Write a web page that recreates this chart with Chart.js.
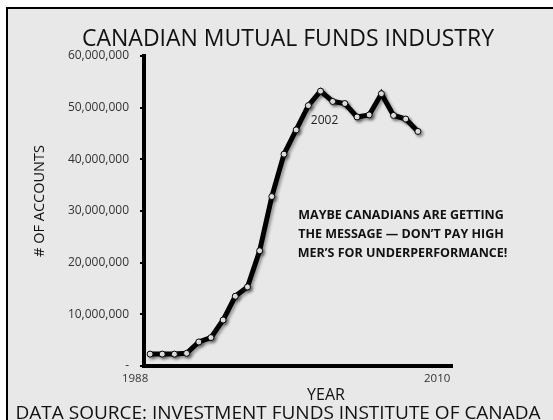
<!DOCTYPE html>
<html>
<head>
<meta charset="utf-8">
<script src="https://cdn.jsdelivr.net/npm/chart.js@4"></script>
<style>
  html, body { margin: 0; padding: 0; background: #fff; }
  #wrap { width: 553px; height: 420px; }
</style>
</head>
<body>
<div id="wrap"><canvas id="fundsChart" width="553" height="420"></canvas></div>
<script>
// number of mutual fund accounts in Canada, by year
var years = [1988, 1989, 1990, 1991, 1992, 1993, 1994, 1995, 1996, 1997, 1998, 1999,
             2000, 2001, 2002, 2003, 2004, 2005, 2006, 2007, 2008, 2009, 2010];
var accounts = [2300000, 2300000, 2300000, 2450000, 4650000, 5500000, 8900000, 13500000,
                15300000, 22300000, 32800000, 41000000, 45700000, 50400000, 53200000,
                51200000, 50800000, 48200000, 48600000, 52700000, 48500000, 47800000, 45400000];
var xTickLabels = ['1988', '2010'];
var yTicks = [0, 10000000, 20000000, 30000000, 40000000, 50000000, 60000000];

var chartTitle = 'CANADIAN MUTUAL FUNDS INDUSTRY';
var yTitle = '# OF ACCOUNTS';
var xTitle = 'YEAR';
var sourceText = 'DATA SOURCE: INVESTMENT FUNDS INSTITUTE OF CANADA';
var peakLabel = '2002';
var noteLines = ['MAYBE CANADIANS ARE GETTING', 'THE MESSAGE \u2014 DON\u2019T PAY HIGH', ' MER\u2019S FOR UNDERPERFORMANCE!'];

var FONT = '"Open Sans", "Noto Sans", sans-serif';

// grey panel with a black frame on the top and left
var panel = {
    id: 'panel',
    beforeDraw: function (chart) {
        var c = chart.ctx;
        c.save();
        c.fillStyle = '#ffffff';
        c.fillRect(0, 0, chart.width, chart.height);
        c.fillStyle = '#e8e8e8';
        c.fillRect(7, 8, chart.width - 7, chart.height - 8);
        c.strokeStyle = '#000';
        c.lineWidth = 2;
        c.beginPath();
        c.moveTo(7, chart.height);
        c.lineTo(7, 8);
        c.lineTo(chart.width, 8);
        c.stroke();
        c.restore();
    }
};

// soft drop shadow under the line, like the original
var shadow = {
    id: 'shadow',
    beforeDatasetsDraw: function (chart) {
        var c = chart.ctx;
        c.save();
        c.shadowColor = 'rgba(0,0,0,0.35)';
        c.shadowBlur = 3;
        c.shadowOffsetX = 2;
        c.shadowOffsetY = 2;
    },
    afterDatasetsDraw: function (chart) {
        chart.ctx.restore();
    }
};

// free texts: title, axis titles, note, source
var texts = {
    id: 'texts',
    afterDraw: function (chart) {
        var c = chart.ctx;
        var x = chart.scales.x, y = chart.scales.y;
        c.save();
        c.fillStyle = '#111';
        c.textAlign = 'center';
        c.textBaseline = 'alphabetic';

        c.font = '23px ' + FONT;
        c.fillText(chartTitle, 288, 46);

        c.font = '16px ' + FONT;
        c.fillText(xTitle, 326, 400);

        c.font = '19px ' + FONT;
        c.fillText(sourceText, 278, 419);

        c.save();
        c.translate(40, 201);
        c.rotate(-Math.PI / 2);
        c.font = '14.5px ' + FONT;
        c.textBaseline = 'middle';
        c.fillText(yTitle, 0, 0);
        c.restore();

        // label just under the peak point
        var i = years.indexOf(+peakLabel);
        c.font = '12px ' + FONT;
        c.textBaseline = 'middle';
        c.fillStyle = '#222';
        c.fillText(peakLabel, x.getPixelForValue(years[i]) + 4, y.getPixelForValue(accounts[i]) + 29);

        c.font = 'bold 12.5px ' + FONT;
        c.fillStyle = '#111';
        noteLines.forEach(function (line, k) {
            c.fillText(line, 401, 215 + k * 19);
        });
        c.restore();
    }
};

var ctx = document.getElementById('fundsChart');
var chart = new Chart(ctx, {
    type: 'line',
    data: {
        datasets: [{
            label: 'Accounts',
            data: years.map(function (yr, i) { return { x: yr, y: accounts[i] }; }),
            borderColor: '#000',
            borderWidth: 5,
            tension: 0,
            pointRadius: 3,
            pointBackgroundColor: '#eeeeee',
            pointBorderColor: '#000',
            pointBorderWidth: 1,
            fill: false
        }]
    },
    options: {
        responsive: false,
        animation: false,
        events: [],
        layout: { padding: { left: 64, right: 101, top: 56, bottom: 34 } },
        plugins: {
            legend: { display: false },
            title: { display: false },
            tooltip: { enabled: false }
        },
        scales: {
            x: {
                type: 'linear',
                min: 1987.5,
                max: 2012.8,
                afterFit: function (s) { s.height = 20; },
                afterBuildTicks: function (s) {
                    // Excel put the two end labels a little outside the first/last points
                    s.ticks = [{ value: years[0] - 1.23 }, { value: years[years.length - 1] + 1.58 }];
                },
                ticks: {
                    autoSkip: false,
                    maxRotation: 0,
                    padding: 6,
                    color: '#333',
                    font: { family: FONT, size: 11.5 },
                    callback: function (v, i) { return xTickLabels[i]; }
                },
                grid: { display: true, drawOnChartArea: false, drawTicks: false, color: 'rgba(0,0,0,0)' },
                border: { color: '#000', width: 4 }
            },
            y: {
                min: 0,
                max: 60000000,
                afterFit: function (s) { s.width = 80; },
                afterBuildTicks: function (s) {
                    s.ticks = yTicks.map(function (v) { return { value: v }; });
                },
                ticks: {
                    padding: 11,
                    color: '#333',
                    font: { family: FONT, size: 12 },
                    callback: function (v) { return v === 0 ? '-' : v.toLocaleString('en-US'); }
                },
                grid: { drawOnChartArea: false, drawTicks: true, tickLength: 4, color: '#000', lineWidth: 2 },
                border: { color: '#000', width: 4 }
            }
        }
    },
    plugins: [panel, shadow, texts]
});
</script>
</body>
</html>
